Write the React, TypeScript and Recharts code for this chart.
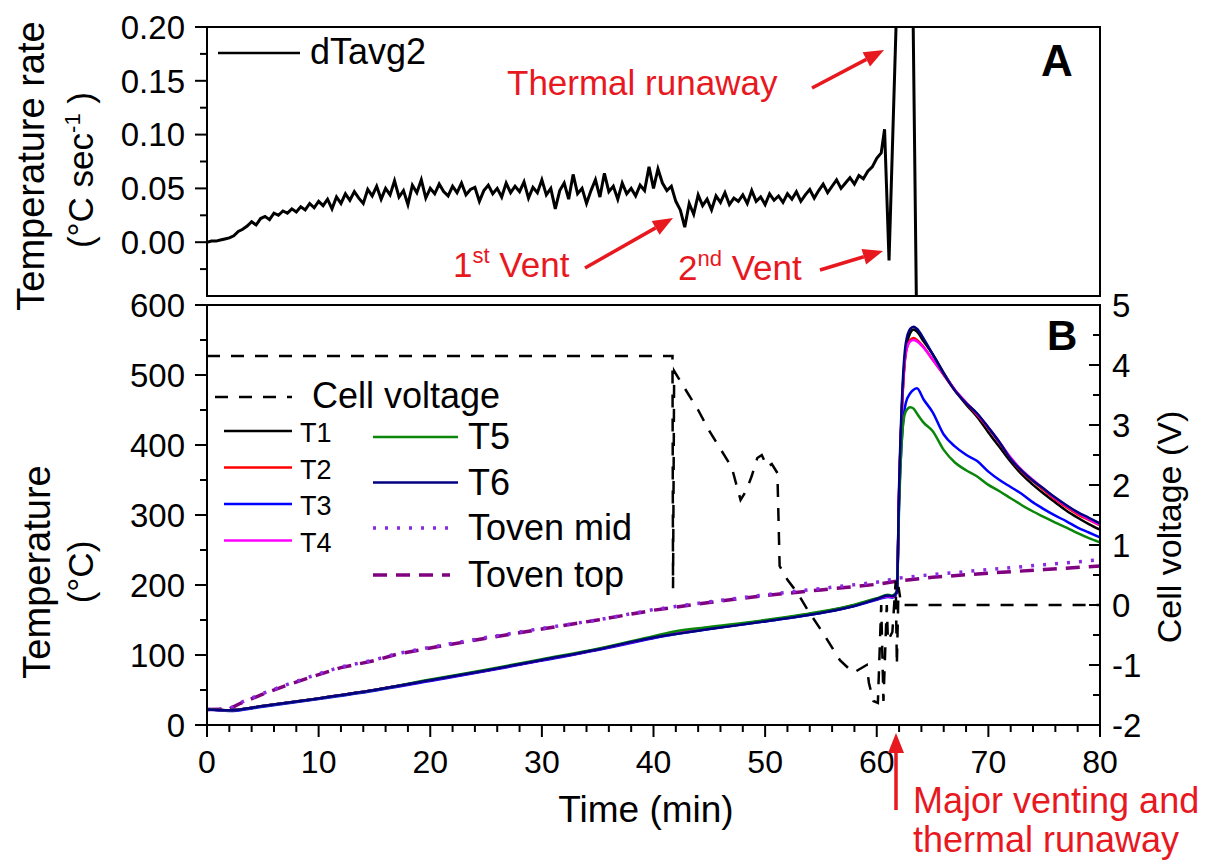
import React from "react";
import { LineChart, Line, XAxis, YAxis, ReferenceArea } from "recharts";

const FONT = "'Liberation Sans', Arial, Helvetica, sans-serif";
const RED = "#e8181f";

// ---- panel A: temperature rate (°C/s), read every 0.4 min from 0 to 60.4 min
const rateStep = 0.4;
const rateValues = [
  0.000, 0.001, 0.001, 0.002, 0.003, 0.004, 0.006, 0.010, 0.012, 0.015,
  0.019, 0.016, 0.022, 0.024, 0.021, 0.027, 0.025, 0.029, 0.027, 0.031,
  0.028, 0.033, 0.030, 0.036, 0.032, 0.038, 0.034, 0.040, 0.031, 0.042,
  0.036, 0.045, 0.039, 0.047, 0.041, 0.036, 0.049, 0.043, 0.052, 0.040,
  0.050, 0.044, 0.057, 0.042, 0.048, 0.035, 0.053, 0.046, 0.058, 0.041,
  0.050, 0.045, 0.054, 0.047, 0.043, 0.052, 0.046, 0.055, 0.044, 0.049,
  0.051, 0.038, 0.048, 0.053, 0.045, 0.050, 0.042, 0.055, 0.046, 0.052,
  0.047, 0.056, 0.041, 0.051, 0.046, 0.058, 0.044, 0.050, 0.031, 0.048,
  0.055, 0.040, 0.063, 0.045, 0.050, 0.036, 0.048, 0.058, 0.042, 0.064,
  0.047, 0.052, 0.040, 0.055, 0.045, 0.050, 0.043, 0.053, 0.048, 0.070,
  0.050, 0.068, 0.055, 0.048, 0.052, 0.038, 0.030, 0.014, 0.036, 0.026,
  0.044, 0.034, 0.040, 0.030, 0.043, 0.037, 0.046, 0.035, 0.041, 0.038,
  0.044, 0.036, 0.048, 0.038, 0.042, 0.035, 0.045, 0.039, 0.043, 0.037,
  0.045, 0.040, 0.047, 0.038, 0.044, 0.049, 0.041, 0.048, 0.054, 0.046,
  0.052, 0.058, 0.050, 0.055, 0.060, 0.054, 0.062, 0.059, 0.066, 0.070,
  0.078, 0.083,
];
// the 2nd vent dip and the runaway spike (goes off scale)
const rateSpikeTimes = [60.7, 61.1, 61.9, 63.2, 63.6];
const rateSpikeValues = [0.105, -0.017, 0.26, 0.26, -0.1];

// ---- panel B: cell temperatures (°C)
const tempTimes = [
  0, 2, 5, 10, 15, 20, 25, 30, 35, 40, 42, 45, 50, 55, 58, 60, 61, 61.4, 61.8,
  62.0, 62.3, 62.6, 63.0, 63.3, 63.6, 64.2, 65, 66, 67, 68, 69, 70, 71, 72, 73, 74, 75, 76, 77, 78, 79, 80,
];
const t1 = [
  22, 21, 27, 38, 50, 64, 78, 93, 108, 125, 131, 138, 149, 161, 171, 180, 184, 183, 190,
  330, 470, 535, 560, 565, 562, 548, 530, 503, 478, 458, 440, 418, 397, 376, 358, 343, 330, 318, 306, 296, 287, 279,
];
const t2 = [
  22, 21, 27, 38, 50, 64, 78, 93, 108, 125, 131, 138, 149, 161, 171, 180, 184, 183, 190,
  330, 465, 530, 550, 553, 550, 540, 522, 500, 478, 460, 443, 424, 403, 380, 362, 348, 335, 322, 311, 301, 293, 285,
];
const t3 = [
  22, 20, 26, 37, 49, 63, 77, 92, 107, 124, 130, 137, 148, 160, 170, 179, 183, 182, 189,
  320, 420, 460, 474, 479, 481, 465, 447, 415, 398, 386, 377, 362, 350, 340, 330, 318, 308, 299, 291, 282, 275, 268,
];
const t4 = [
  22, 21, 27, 38, 50, 64, 78, 93, 108, 125, 131, 138, 149, 161, 171, 180, 184, 183, 190,
  332, 468, 532, 548, 550, 548, 539, 522, 501, 479, 461, 444, 425, 404, 382, 364, 350, 337, 324, 313, 303, 294, 286,
];
const t5 = [
  22, 21, 27, 38, 50, 65, 79, 94, 109, 127, 134, 140, 150, 162, 172, 181, 186, 185, 191,
  310, 420, 448, 454, 452, 445, 432, 420, 393, 375, 364, 355, 343, 334, 324, 314, 305, 297, 289, 282, 274, 267, 261,
];
const t6 = [
  22, 21, 27, 38, 50, 64, 78, 93, 108, 125, 130, 137, 148, 160, 170, 180, 185, 184, 190,
  340, 480, 545, 566, 569, 566, 552, 530, 502, 478, 460, 445, 425, 404, 380, 363, 349, 337, 325, 314, 304, 296, 288,
];

// oven thermocouples (°C)
const ovenTimes = [0, 2, 3, 5, 7, 10, 12, 15, 17, 20, 25, 30, 35, 40, 45, 50, 55, 60, 62, 65, 70, 75, 80];
const ovenMid = [22, 23, 32, 45, 57, 73, 83, 93, 102, 111, 125, 138, 150, 165, 176, 186, 195, 204, 210, 215, 222, 229, 236];
const ovenTop = [22, 23, 31, 44, 56, 72, 82, 92, 101, 110, 124, 137, 150, 164, 175, 185, 193, 201, 206, 211, 217, 222, 227];

// cell voltage (V)
const voltTimes = [
  0, 41.7, 41.75, 41.85, 43, 44, 45, 46, 47, 47.8, 48.3, 48.8, 49.3, 49.7, 50.2, 50.6, 51.1, 51.3,
  52, 52.9, 53.8, 55.2, 56.7, 57.9, 59.1, 59.3, 59.7, 60.1, 60.4, 60.6, 60.9, 61.0, 61.4, 61.7, 61.8, 61.95, 62.2, 80,
];
const voltValues = [
  4.15, 4.15, 0.28, 3.9, 3.55, 3.25, 2.9, 2.6, 2.3, 1.75, 1.9, 2.15, 2.45, 2.5, 2.3, 2.35, 2.2, 0.65,
  0.42, 0.2, -0.08, -0.47, -0.92, -1.13, -1.0, -1.3, -1.6, -1.63, 0.0, -1.6, 0.0, -0.6, -0.45, 0.4, -1.0, 0.3, 0.0, 0.0,
];

// ticks (minor ticks included, labels only on majors)
const rateTicks = [-0.025, 0, 0.025, 0.05, 0.075, 0.1, 0.125, 0.15, 0.175, 0.2];
const tempTicks = [0, 50, 100, 150, 200, 250, 300, 350, 400, 450, 500, 550, 600];
const voltTicks = [-2, -1.5, -1, -0.5, 0, 0.5, 1, 1.5, 2, 2.5, 3, 3.5, 4, 4.5, 5];
const timeTicks = Array.from({ length: 41 }, (_, i) => i * 2);

const pairs = (xs: number[], ys: number[]) => xs.map((t, i) => ({ t, v: ys[i] }));

const rateData = rateValues
  .map((v, i) => ({ t: Math.round(i * rateStep * 10) / 10, v }))
  .concat(pairs(rateSpikeTimes, rateSpikeValues));

const tempSeries = [
  { name: "T1", values: t1, color: "#000000" },
  { name: "T2", values: t2, color: "#ff0000" },
  { name: "T3", values: t3, color: "#0000ff" },
  { name: "T4", values: t4, color: "#ff00ff" },
  { name: "T5", values: t5, color: "#0a870a" },
  { name: "T6", values: t6, color: "#000080" },
];

const isMajor = (v: number, step: number) => Math.abs(v / step - Math.round(v / step)) < 1e-6;

const LeftTick = (p: any) => {
  const { x, y, payload, step, decimals } = p;
  const major = isMajor(payload.value, step);
  return (
    <g>
      <line x1={x} x2={x - (major ? 12 : 7)} y1={y} y2={y} stroke="#000" strokeWidth={2} />
      {major && (
        <text x={x - 22} y={y} dy="0.36em" textAnchor="end" fontSize={33} fontFamily={FONT} fill="#000">
          {payload.value.toFixed(decimals)}
        </text>
      )}
    </g>
  );
};

const RightTick = (p: any) => {
  const { x, y, payload } = p;
  const major = isMajor(payload.value, 1);
  return (
    <g>
      <line x1={x} x2={x - (major ? 11 : 7)} y1={y} y2={y} stroke="#000" strokeWidth={2} />
      {major && (
        <text x={x + 12} y={y} dy="0.36em" textAnchor="start" fontSize={33} fontFamily={FONT} fill="#000">
          {payload.value}
        </text>
      )}
    </g>
  );
};

const BottomTick = (p: any) => {
  const { x, y, payload } = p;
  const major = isMajor(payload.value, 10);
  return (
    <g>
      <line x1={x} x2={x} y1={y} y2={y + (major ? 12 : 7)} stroke="#000" strokeWidth={2} />
      {major && (
        <text x={x} y={y + 48} textAnchor="middle" fontSize={32} fontFamily={FONT} fill="#000">
          {payload.value}
        </text>
      )}
    </g>
  );
};

const Arrow = ({ x1, y1, x2, y2 }: { x1: number; y1: number; x2: number; y2: number }) => {
  const dx = x2 - x1;
  const dy = y2 - y1;
  const len = Math.hypot(dx, dy);
  const ux = dx / len;
  const uy = dy / len;
  const bx = x2 - ux * 20;
  const by = y2 - uy * 20;
  const px = -uy * 8;
  const py = ux * 8;
  return (
    <g>
      <line x1={x1} y1={y1} x2={bx} y2={by} stroke={RED} strokeWidth={3.5} />
      <polygon points={`${x2},${y2} ${bx + px},${by + py} ${bx - px},${by - py}`} fill={RED} />
    </g>
  );
};

const axisLine = { stroke: "#000", strokeWidth: 2 };

const Overlay = () => (
  <svg
    width={1217}
    height={861}
    style={{ position: "absolute", left: 0, top: 0, pointerEvents: "none" }}
    fontFamily={FONT}
  >
    {/* axis titles */}
    <text transform="translate(44,166) rotate(-90)" textAnchor="middle" fontSize={38}>
      Temperature rate
    </text>
    <text transform="translate(93,170) rotate(-90)" textAnchor="middle" fontSize={35}>
      (°C sec<tspan dy={-13} fontSize={22}>-1</tspan>
      <tspan dy={13}> )</tspan>
    </text>
    <text transform="translate(50,572) rotate(-90)" textAnchor="middle" fontSize={38}>
      Temperature
    </text>
    <text transform="translate(93,572) rotate(-90)" textAnchor="middle" fontSize={35}>
      (°C)
    </text>
    <text transform="translate(1181,527) rotate(-90)" textAnchor="middle" fontSize={34}>
      Cell voltage (V)
    </text>
    <text x={646} y={822} textAnchor="middle" fontSize={37}>
      Time (min)
    </text>

    {/* panel letters */}
    <text x={1041} y={76} fontSize={44} fontWeight="bold">A</text>
    <text x={1047} y={350} fontSize={42} fontWeight="bold">B</text>

    {/* legend A */}
    <line x1={218} x2={300} y1={53} y2={53} stroke="#000" strokeWidth={2.5} />
    <text x={310} y={64} fontSize={36}>dTavg2</text>

    {/* legend B */}
    <line x1={215} x2={292} y1={397} y2={397} stroke="#000" strokeWidth={2.5} strokeDasharray="13 11" />
    <text x={312} y={408} fontSize={36}>Cell voltage</text>
    {tempSeries.slice(0, 4).map((s, i) => (
      <g key={s.name}>
        <line x1={224} x2={292} y1={431 + i * 36.5} y2={431 + i * 36.5} stroke={s.color} strokeWidth={2.5} />
        <text x={300} y={442 + i * 36.5} fontSize={27}>{s.name}</text>
      </g>
    ))}
    {tempSeries.slice(4).map((s, i) => (
      <g key={s.name}>
        <line x1={373} x2={458} y1={437 + i * 45.5} y2={437 + i * 45.5} stroke={s.color} strokeWidth={2.5} />
        <text x={468} y={449 + i * 45.5} fontSize={36}>{s.name}</text>
      </g>
    ))}
    <line x1={373} x2={450} y1={528} y2={528} stroke="#8a2be2" strokeWidth={3.5} strokeDasharray="3 9" />
    <text x={468} y={540} fontSize={36}>Toven mid</text>
    <line x1={373} x2={450} y1={575} y2={575} stroke="#800080" strokeWidth={3.5} strokeDasharray="14 9" />
    <text x={468} y={587} fontSize={36}>Toven top</text>

    {/* annotations */}
    <g fill={RED} fontSize={35}>
      <text x={507} y={95}>Thermal runaway</text>
      <text x={453} y={277}>
        1<tspan dy={-14} fontSize={22}>st</tspan>
        <tspan dy={14}> Vent</tspan>
      </text>
      <text x={678} y={280}>
        2<tspan dy={-14} fontSize={22}>nd</tspan>
        <tspan dy={14}> Vent</tspan>
      </text>
      <text x={913} y={813} fontSize={36}>Major venting and</text>
      <text x={913} y={852} fontSize={36}>thermal runaway</text>
    </g>
    <Arrow x1={812} y1={88} x2={884} y2={50} />
    <Arrow x1={585} y1={268} x2={673} y2={218} />
    <Arrow x1={820} y1={270} x2={883} y2={251} />
    <Arrow x1={896} y1={810} x2={896} y2={733} />
  </svg>
);

export default function App() {
  return (
    <div style={{ position: "absolute", left: 0, top: 0, width: 1217, height: 861, background: "#fff" }}>
      <div style={{ position: "absolute", left: 0, top: 0 }}>
        <LineChart width={1217} height={310} margin={{ top: 27, right: 117, bottom: 14, left: 0 }}>
          <XAxis type="number" dataKey="t" domain={[0, 80]} allowDataOverflow hide />
          <YAxis
            type="number"
            domain={[-0.05, 0.2]}
            allowDataOverflow
            ticks={rateTicks}
            interval={0}
            width={207}
            tickSize={0}
            tickMargin={0}
            tickLine={false}
            axisLine={axisLine}
            tick={(p: any) => <LeftTick {...p} step={0.05} decimals={2} />}
          />
          <ReferenceArea x1={0} x2={80} y1={-0.05} y2={0.2} fill="none" stroke="#000" strokeWidth={2} />
          <Line
            data={rateData}
            dataKey="v"
            type="linear"
            stroke="#000"
            strokeWidth={3}
            dot={false}
            isAnimationActive={false}
          />
        </LineChart>
      </div>
      <div style={{ position: "absolute", left: 0, top: 270 }}>
        <LineChart width={1217} height={591} margin={{ top: 35, right: 0, bottom: 76, left: 0 }}>
          <XAxis
            type="number"
            dataKey="t"
            domain={[0, 80]}
            allowDataOverflow
            ticks={timeTicks}
            interval={0}
            height={60}
            tickSize={0}
            tickMargin={0}
            tickLine={false}
            axisLine={axisLine}
            tick={(p: any) => <BottomTick {...p} />}
          />
          <YAxis
            yAxisId="T"
            type="number"
            domain={[0, 600]}
            allowDataOverflow
            ticks={tempTicks}
            interval={0}
            width={207}
            tickSize={0}
            tickMargin={0}
            tickLine={false}
            axisLine={axisLine}
            tick={(p: any) => <LeftTick {...p} step={100} decimals={0} />}
          />
          <YAxis
            yAxisId="V"
            orientation="right"
            type="number"
            domain={[-2, 5]}
            allowDataOverflow
            ticks={voltTicks}
            interval={0}
            width={117}
            tickSize={0}
            tickMargin={0}
            tickLine={false}
            axisLine={axisLine}
            tick={(p: any) => <RightTick {...p} />}
          />
          <ReferenceArea yAxisId="T" x1={0} x2={80} y1={0} y2={600} fill="none" stroke="#000" strokeWidth={2} />
          <Line
            yAxisId="T"
            data={pairs(ovenTimes, ovenTop)}
            dataKey="v"
            type="linear"
            stroke="#800080"
            strokeWidth={3.5}
            strokeDasharray="14 9"
            dot={false}
            isAnimationActive={false}
          />
          <Line
            yAxisId="T"
            data={pairs(ovenTimes, ovenMid)}
            dataKey="v"
            type="linear"
            stroke="#8a2be2"
            strokeWidth={3.5}
            strokeDasharray="3 9"
            dot={false}
            isAnimationActive={false}
          />
          {tempSeries.map((s) => (
            <Line
              key={s.name}
              yAxisId="T"
              data={pairs(tempTimes, s.values)}
              dataKey="v"
              name={s.name}
              type="monotone"
              stroke={s.color}
              strokeWidth={2.5}
              dot={false}
              isAnimationActive={false}
            />
          ))}
          <Line
            yAxisId="V"
            data={pairs(voltTimes, voltValues)}
            dataKey="v"
            type="linear"
            stroke="#000"
            strokeWidth={2.5}
            strokeDasharray="13 11"
            dot={false}
            isAnimationActive={false}
          />
        </LineChart>
      </div>
      <Overlay />
    </div>
  );
}
